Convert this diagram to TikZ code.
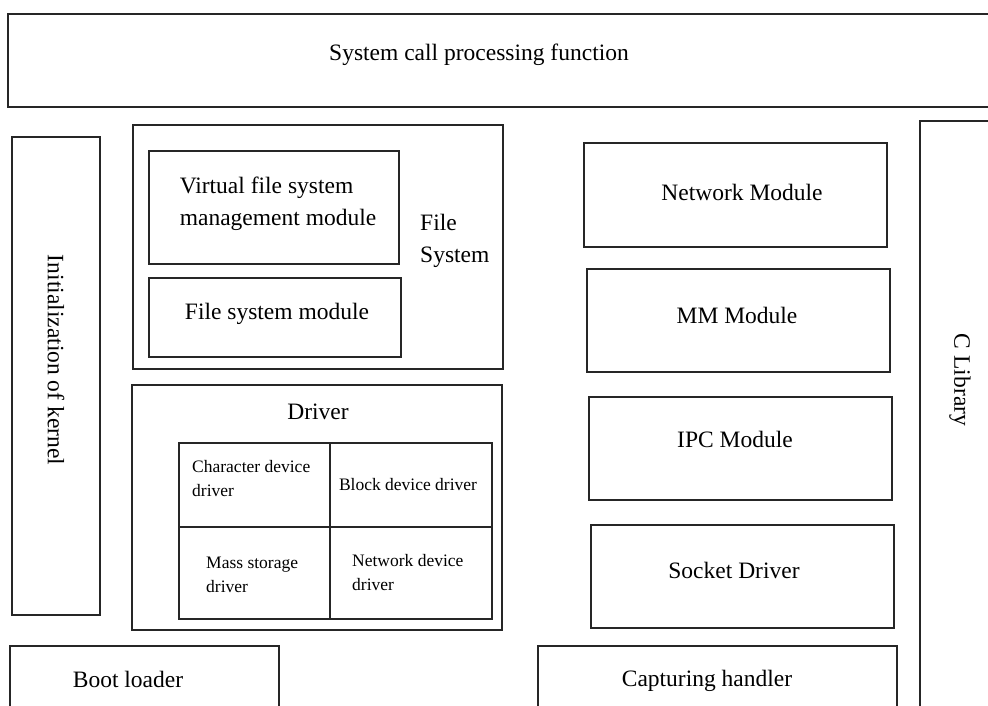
\documentclass[tikz,border=0pt]{standalone}
\usepackage{fontspec}
\setmainfont{Liberation Serif}
\begin{document}
\begin{tikzpicture}[x=1pt,y=-1pt,
  box/.style={draw=black!85,line width=1.3pt,inner sep=0pt,rectangle},
  big/.style={font=\fontsize{23.5}{32}\selectfont,inner sep=0pt,text=black},
  small/.style={font=\fontsize{17.5}{24}\selectfont,inner sep=0pt,text=black}]
\useasboundingbox (0,0) rectangle (988,706);
\clip (0,0) rectangle (988,706);
% boxes
\node[box,minimum width=992pt,minimum height=93pt] (top) at (504,60.5) {};
\node[box,minimum width=88pt,minimum height=478pt] (init) at (56,376) {};
\node[box,minimum width=370pt,minimum height=244pt] (fs) at (318,247) {};
\node[box,minimum width=250pt,minimum height=113pt] (vfs) at (274,207.5) {};
\node[box,minimum width=252pt,minimum height=79pt] (fsm) at (275,317.5) {};
\node[box,minimum width=370pt,minimum height=245pt] (drv) at (317,507.5) {};
\node[box,minimum width=151pt,minimum height=84pt] (c1) at (254.5,485) {};
\node[box,minimum width=162pt,minimum height=84pt] (c2) at (411,485) {};
\node[box,minimum width=151pt,minimum height=92pt] (c3) at (254.5,573) {};
\node[box,minimum width=162pt,minimum height=92pt] (c4) at (411,573) {};
\node[box,minimum width=303pt,minimum height=104pt] (net) at (735.5,195) {};
\node[box,minimum width=303pt,minimum height=103pt] (mm) at (738.5,320.5) {};
\node[box,minimum width=303pt,minimum height=103pt] (ipc) at (740.5,448.5) {};
\node[box,minimum width=303pt,minimum height=103pt] (sock) at (742.5,576.5) {};
\node[box,minimum width=80pt,minimum height=599pt] (clib) at (960,420.5) {};
\node[box,minimum width=269pt,minimum height=74pt] (boot) at (144.5,683) {};
\node[box,minimum width=359pt,minimum height=74pt] (cap) at (717.5,683) {};
% texts
\node[big] (ttop) at (479,55) {System call processing function};
\node[big,rotate=-90] (tinit) at (56,360) {Initialization of kernel};
\node[big,align=left] (tvfs) at (278,204) {Virtual file system\\management module};
\node[big] (tfsm) at (277,314) {File system module};
\node[big,align=left,anchor=west] (tfs) at (420,241) {File\\System};
\node[big] (tdrv) at (318,412) {Driver};
\node[small,align=left,anchor=west] (tc1) at (192,479) {Character device\\driver};
\node[small] (tc2) at (408,485) {Block device driver};
\node[small,align=left,anchor=west] (tc3) at (206,575) {Mass storage\\driver};
\node[small,align=left,anchor=west] (tc4) at (352,573) {Network device\\driver};
\node[big] (tnet) at (742,192) {Network Module};
\node[big] (tmm) at (737,315) {MM Module};
\node[big] (tipc) at (735,439) {IPC Module};
\node[big] (tsock) at (734,570) {Socket Driver};
\node[big,rotate=-90] (tclib) at (960,380) {C Library};
\node[big] (tboot) at (128,679) {Boot loader};
\node[big] (tcap) at (707,681) {Capturing handler};
\end{tikzpicture}
\end{document}
